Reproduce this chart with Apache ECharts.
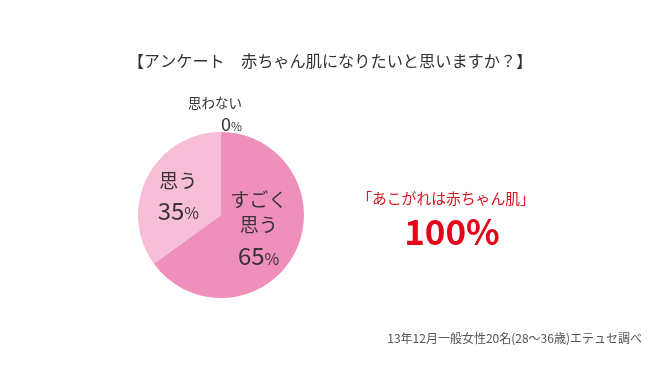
<!DOCTYPE html>
<html><head><meta charset="utf-8">
<script src="https://cdn.jsdelivr.net/npm/echarts@6/dist/echarts.min.js"></script>
<style>html,body{margin:0;padding:0;background:#fff}#c{width:660px;height:371px}</style>
</head><body><div id="c"></div>
<script>
const titleText = '【アンケート　赤ちゃん肌になりたいと思いますか？】';
const categories = ['すごく思う', '思う', '思わない'];
const labelWords = [['すごく', '思う'], ['思う'], ['思わない']];
const values = [65, 35, 0];
const highlightText = '「あこがれは赤ちゃん肌」';
const highlightValue = '100%';
const noteText = '13年12月一般女性20名(28～36歳)エテュセ調べ';

const FONT = '"Noto Sans CJK JP", "Noto Sans", sans-serif';
const colors = ['#ee90bb', '#f6bed7', '#f6bed7'];
const INK = '#3a3236';

const labelCfg = [
  { offset: [-2, -4], rich: {
      t: { fontSize: 19, lineHeight: 25, color: INK, fontFamily: FONT },
      n: { fontSize: 24, lineHeight: 38, color: INK, fontFamily: FONT },
      p: { fontSize: 16, lineHeight: 38, color: INK, fontFamily: FONT, padding: [5, 0, 0, 0] } } },
  { offset: [-3, 1], rich: {
      t: { fontSize: 19, lineHeight: 30, color: INK, fontFamily: FONT },
      n: { fontSize: 24, lineHeight: 30, color: INK, fontFamily: FONT },
      p: { fontSize: 16, lineHeight: 30, color: INK, fontFamily: FONT, padding: [5, 0, 0, 0] } } },
  { offset: [-6, -57], rich: {
      t: { fontSize: 13.5, lineHeight: 22, color: INK, fontFamily: FONT, align: 'right' },
      n: { fontSize: 18, lineHeight: 22, color: INK, fontFamily: FONT, align: 'right' },
      p: { fontSize: 12, lineHeight: 22, color: INK, fontFamily: FONT, align: 'right', padding: [4, 0, 0, 0] } } }
];

const pieData = categories.map((name, i) => ({
  name: name,
  value: values[i],
  itemStyle: { color: colors[i] },
  label: {
    show: true,
    position: 'inside',
    offset: labelCfg[i].offset,
    formatter: labelWords[i].map(w => '{t|' + w + '}').join('\n') + '\n{n|' + values[i] + '}{p|%}',
    rich: labelCfg[i].rich
  }
}));

const chart = echarts.init(document.getElementById('c'), null, { renderer: 'canvas' });
chart.setOption({
  backgroundColor: '#ffffff',
  animation: false,
  title: [
    { text: titleText, left: 'center', top: 48,
      textStyle: { fontSize: 16.2, fontWeight: 'normal', color: '#333333', fontFamily: FONT } },
    { text: highlightText, left: 441, top: 186, textAlign: 'center',
      textStyle: { fontSize: 14.8, fontWeight: 'normal', color: '#d9121f', fontFamily: FONT } },
    { text: highlightValue, left: 447, top: 209, textAlign: 'center',
      textStyle: { fontSize: 35, fontWeight: 'bold', color: '#e3061a', fontFamily: FONT } },
    { text: noteText, right: 13, top: 327,
      textStyle: { fontSize: 12, fontWeight: 'normal', color: '#555555', fontFamily: FONT } }
  ],
  series: [{
    type: 'pie',
    center: [221, 215],
    radius: [0, 83],
    startAngle: 90,
    clockwise: true,
    minShowLabelAngle: 0,
    avoidLabelOverlap: false,
    labelLine: { show: false },
    emphasis: { disabled: true },
    itemStyle: { borderWidth: 0 },
    data: pieData
  }]
});
</script></body></html>
